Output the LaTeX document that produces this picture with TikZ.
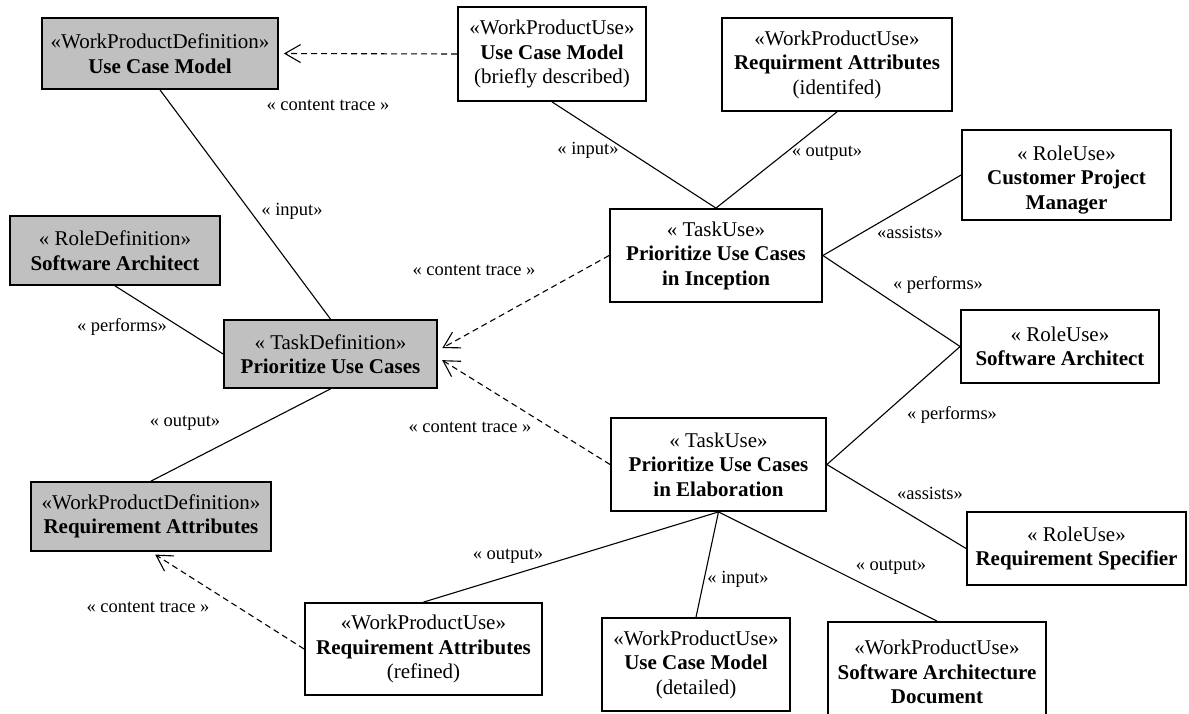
\documentclass[tikz,border=0pt]{standalone}
\usepackage{fontspec}
\setmainfont{Liberation Serif}
\usetikzlibrary{arrows.meta,calc}
\definecolor{boxgray}{HTML}{C0C0C0}
\begin{document}
\begin{tikzpicture}[x=1pt,y=-1pt,
  usebox/.style={draw, line width=1.8pt, fill=white, inner sep=0pt, align=center,
                 font=\fontsize{21}{24.5}\selectfont},
  defbox/.style={usebox, fill=boxgray},
  boxtext/.style={inner sep=0pt, align=center, font=\fontsize{21}{24.5}\selectfont},
  size/.style 2 args={minimum width=#1pt, minimum height=#2pt},
  lbl/.style={font=\fontsize{18.5}{20}\selectfont, inner sep=0pt},
  conn/.style={line width=1.1pt},
  trace/.style={conn, dash pattern=on 6pt off 4pt,
                -{Straight Barb[angle=60:18pt]}, shorten >=5pt}
]
\useasboundingbox (0,0) rectangle (1189,713);
\fill[white] (0,0) rectangle (1189,713);
\clip (0,0) rectangle (1189,713);

% method content (definitions)
\node[defbox, size={236}{71}] (wpdUCM) at (160,53.5)
  {«WorkProductDefinition»\\\textbf{Use Case Model}};
\node[defbox, size={210}{69}] (rdSA) at (115,250.5)
  {« RoleDefinition»\\\textbf{Software Architect}};
\node[defbox, size={213}{68}] (tdPUC) at (330.5,354)
  {« TaskDefinition»\\\textbf{Prioritize Use Cases}};
\node[defbox, size={240}{69}] (wpdRA) at (151,516.5)
  {«WorkProductDefinition»\\\textbf{Requirement Attributes}};

% process (uses)
\node[usebox, size={188}{94}] (wpuUCMb) at (552,54)
  {«WorkProductUse»\\\textbf{Use Case Model}\\(briefly described)};
\node[usebox, size={230}{93}] (wpuRAi) at (837,64.5)
  {«WorkProductUse»\\\textbf{Requirment Attributes}\\(identifed)};
\node[usebox, size={209}{90}] (cpm) at (1066.5,175) {};
\node[boxtext] (cpmtext) at (1066.5,180)
  {« RoleUse»\\\textbf{Customer Project}\\\textbf{Manager}};
\node[usebox, size={212}{93}] (tuInc) at (716,255.5)
  {« TaskUse»\\\textbf{Prioritize Use Cases}\\\textbf{in Inception}};
\node[usebox, size={198}{73}] (ruSA) at (1060,346.5)
  {« RoleUse»\\\textbf{Software Architect}};
\node[usebox, size={215}{93}] (tuElab) at (718.5,464.5)
  {« TaskUse»\\\textbf{Prioritize Use Cases}\\\textbf{in Elaboration}};
\node[usebox, size={219}{73}] (ruRS) at (1076.5,548.5)
  {« RoleUse»\\\textbf{Requirement Specifier}};
\node[usebox, size={237}{92}] (wpuRAr) at (423.5,649)
  {«WorkProductUse»\\\textbf{Requirement Attributes}\\(refined)};
\node[usebox, size={188}{93}] (wpuUCMd) at (696,664.5)
  {«WorkProductUse»\\\textbf{Use Case Model}\\(detailed)};
\node[usebox, size={218}{100}] (wpuSAD) at (937,672)
  {«WorkProductUse»\\\textbf{Software Architecture}\\\textbf{Document}};

% associations
\draw[conn] (wpdUCM.south) -- (tdPUC.north);
\draw[conn] (rdSA.south) -- (tdPUC.west);
\draw[conn] (tdPUC.south) -- (wpdRA.north);
\draw[conn] (wpuUCMb.south) -- (tuInc.north);
\draw[conn] (wpuRAi.south) -- (tuInc.north);
\draw[conn] (tuInc.east) -- (cpm.west);
\draw[conn] (tuInc.east) -- (ruSA.west);
\draw[conn] (tuElab.east) -- (ruSA.west);
\draw[conn] (tuElab.east) -- (ruRS.west);
\draw[conn] (tuElab.south) -- (wpuRAr.north);
\draw[conn] (tuElab.south) -- (wpuUCMd.north);
\draw[conn] (tuElab.south) -- (wpuSAD.north);

% content trace dependencies
\draw[trace] (wpuUCMb.west) -- (wpdUCM.east);
\draw[trace] (tuInc.west) -- ($(tdPUC.east)+(0,-3.5)$);
\draw[trace] (tuElab.west) -- ($(tdPUC.east)+(0,3.5)$);
\draw[trace] (wpuRAr.west) -- (wpdRA.south);

% connector labels
\node[lbl] (lct1) at (328,105) {« content trace »};
\node[lbl] (lin1) at (292,211) {« input»};
\node[lbl] (lpf0) at (122,327) {« performs»};
\node[lbl] (lout0) at (185,423) {« output»};
\node[lbl] (lct2) at (474,270) {« content trace »};
\node[lbl] (lct3) at (470,427) {« content trace »};
\node[lbl] (lct4) at (148,607) {« content trace »};
\node[lbl] (lin2) at (588,150) {« input»};
\node[lbl] (lout2) at (827,153) {« output»};
\node[lbl] (las1) at (910,232) {«assists»};
\node[lbl] (lpf1) at (938,285) {« performs»};
\node[lbl] (lpf2) at (952,415) {« performs»};
\node[lbl] (las2) at (930,493) {«assists»};
\node[lbl] (lout3) at (508,556) {« output»};
\node[lbl] (lin3) at (738,579) {« input»};
\node[lbl] (lout4) at (891,567) {« output»};
\end{tikzpicture}
\end{document}
